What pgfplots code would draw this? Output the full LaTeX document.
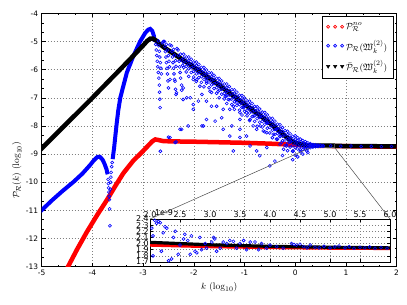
\documentclass[border=0pt]{standalone}
\usepackage{fontspec}
\usepackage{amssymb}
\usepackage{pgfplots}
\pgfplotsset{compat=1.18}
\newfontfamily\dejavu{DejaVu Sans}
\begin{document}
\begin{tikzpicture}
\path[use as bounding box] (-41.7bp,-38.4bp) rectangle (365.3bp,266.6bp);
\begin{axis}[name=main, at={(0,0)}, anchor=south west, scale only axis,
  width=354.9bp, height=253.2bp,
  xmin=-5, xmax=2, ymin=-13, ymax=-4,
  xtick={-5,-4,-3,-2,-1,0,1,2}, xticklabels={-5,-4,-3,-2,-1,0,1,2},
  ytick={-13,-12,-11,-10,-9,-8,-7,-6,-5,-4},
  yticklabels={-13,-12,-11,-10,-9,-8,-7,-6,-5,-4},
  minor x tick num=2, minor y tick num=2,
  tick align=inside, major tick length=4bp, minor tick length=2bp,
  tick style={black, line width=0.5bp},
  tick label style={font=\dejavu\fontsize{7.5}{8}\selectfont},
  grid=major, major grid style={gray, line width=0.5bp, dash pattern=on 1bp off 2bp},
  axis line style={black, line width=0.8bp},
  xlabel={$k$ ($\log_{10}$)}, ylabel={$\mathcal{P}_{\mathcal{R}}(k)$ ($\log_{10}$)},
  label style={font=\fontsize{9.5}{11}\selectfont},
  xlabel style={at={(axis description cs:0.5,-0.081)}, anchor=center},
  ylabel style={at={(axis description cs:-0.07,0.38)}, anchor=center},
  legend style={at={(1,1)}, anchor=north east, xshift=-3bp, yshift=-3bp, draw=black, line width=0.6bp,
    font=\fontsize{9.5}{11}\selectfont, row sep=5pt, inner xsep=4pt, inner ysep=4pt},
  legend cell align=left,
]
% red: P^no
\addplot[red, line width=4.5bp, forget plot] coordinates {
(-4.62,-13.45) (-4.48,-13.00) (-4.30,-12.38) (-4.11,-11.77) (-3.90,-11.15) (-3.72,-10.65)
(-3.55,-10.14) (-3.39,-9.68) (-3.20,-9.25) (-3.00,-8.89) (-2.90,-8.70) (-2.82,-8.55)
(-2.76,-8.48) (-2.70,-8.50) (-2.60,-8.54) (-2.40,-8.55) (-2.00,-8.56) (-1.50,-8.58)
(-1.00,-8.60) (-0.50,-8.63) (0.00,-8.67) (0.30,-8.70) (0.78,-8.715) (1.00,-8.72) (1.50,-8.73) (2.05,-8.74)};
% blue dense parts
\addplot[blue, line width=4bp, forget plot] coordinates {
(-5.05,-11.08) (-4.80,-10.65) (-4.60,-10.33) (-4.38,-10.00) (-4.20,-9.70) (-4.05,-9.40)
(-3.97,-9.22) (-3.90,-9.10) (-3.85,-9.10) (-3.80,-9.20) (-3.76,-9.35) (-3.72,-9.55) (-3.70,-9.72)};
\addplot[blue, line width=4bp, forget plot] coordinates {
(-3.60,-9.18) (-3.57,-8.75) (-3.55,-8.40) (-3.52,-7.90) (-3.49,-7.45) (-3.45,-7.00) (-3.40,-6.65)
(-3.32,-6.10) (-3.20,-5.55) (-3.06,-5.00) (-2.96,-4.70) (-2.90,-4.58) (-2.86,-4.55) (-2.82,-4.62)
(-2.79,-4.78) (-2.77,-5.00)};
% blue scatter
\addplot[blue, only marks, mark=o, mark size=1.5bp, mark options={line width=0.6bp}, forget plot] coordinates {
(-3.69,-9.90) (-3.685,-10.05) (-3.68,-10.20) (-3.675,-10.35) (-3.67,-10.50) (-3.665,-10.62)
(-3.66,-10.95) (-3.655,-11.55) (-3.645,-10.25) (-3.64,-10.00) (-3.635,-9.82) (-3.63,-9.65)
(-3.62,-9.45) (-3.61,-9.30)
(-2.75,-5.10) (-2.74,-5.30) (-2.73,-5.50) (-2.72,-5.70) (-2.71,-5.90) (-2.70,-6.10) (-2.69,-6.30)
(-2.68,-6.55) (-2.675,-6.80) (-2.67,-7.05) (-2.665,-7.35) (-2.66,-8.90)
(-2.70,-4.98) (-2.69,-5.15) (-2.68,-5.35) (-2.67,-5.55) (-2.66,-5.75) (-2.65,-5.95) (-2.64,-6.15)
(-2.62,-5.05) (-2.60,-5.00)
(-2.58,-5.00) (-2.57,-5.18) (-2.56,-5.36) (-2.55,-5.55) (-2.54,-5.75) (-2.53,-5.95) (-2.52,-6.15)
(-2.51,-6.40) (-2.50,-6.65)
(-2.54,-5.10) (-2.52,-5.30) (-2.50,-5.50) (-2.49,-5.70) (-2.48,-5.90) (-2.47,-5.12)
(-2.44,-5.15) (-2.43,-5.35) (-2.42,-5.55) (-2.41,-5.75) (-2.40,-5.95) (-2.39,-6.15) (-2.38,-6.35)
(-2.36,-6.70) (-2.35,-6.88)
(-2.40,-5.28) (-2.38,-5.48) (-2.36,-5.68) (-2.35,-5.88) (-2.33,-5.25)
(-2.31,-5.30) (-2.30,-5.50) (-2.29,-5.70) (-2.28,-5.90) (-2.27,-6.10) (-2.26,-6.30) (-2.24,-6.55)
(-2.26,-5.45) (-2.24,-5.65) (-2.22,-5.85)
(-2.20,-5.45) (-2.20,-5.59) (-2.20,-5.75) (-2.20,-5.92)
(-2.15,-5.55) (-2.15,-5.70) (-2.15,-5.88) (-2.15,-6.08)
(-2.10,-5.55) (-2.10,-5.67) (-2.10,-5.81) (-2.10,-5.97) (-2.10,-6.24)
(-2.05,-5.63) (-2.05,-5.77) (-2.05,-5.93) (-2.05,-6.10)
(-2.00,-5.73) (-2.00,-5.88) (-2.00,-6.06) (-2.00,-6.26)
(-1.95,-5.73) (-1.95,-5.85) (-1.95,-5.99) (-1.95,-6.15) (-1.95,-6.42)
(-1.90,-5.81) (-1.90,-5.95) (-1.90,-6.11) (-1.90,-6.28)
(-1.85,-5.92) (-1.85,-6.07) (-1.85,-6.25) (-1.85,-6.45)
(-1.80,-5.92) (-1.80,-6.04) (-1.80,-6.18) (-1.80,-6.34) (-1.80,-6.61)
(-1.75,-6.01) (-1.75,-6.15) (-1.75,-6.31) (-1.75,-6.48)
(-1.70,-6.11) (-1.70,-6.26) (-1.70,-6.44) (-1.70,-6.64)
(-1.65,-6.12) (-1.65,-6.24) (-1.65,-6.38) (-1.65,-6.54) (-1.65,-6.81)
(-1.60,-6.20) (-1.60,-6.34) (-1.60,-6.50) (-1.60,-6.67)
(-1.55,-6.31) (-1.55,-6.46) (-1.55,-6.64) (-1.55,-6.84)
(-1.50,-6.31) (-1.50,-6.43) (-1.50,-6.57) (-1.50,-6.73) (-1.50,-7.00)
(-1.45,-6.40) (-1.45,-6.54) (-1.45,-6.70) (-1.45,-6.87)
(-1.40,-6.51) (-1.40,-6.66) (-1.40,-6.84) (-1.40,-7.04)
(-1.35,-6.51) (-1.35,-6.63) (-1.35,-6.77) (-1.35,-6.93) (-1.35,-7.20)
(-1.30,-6.60) (-1.30,-6.74) (-1.30,-6.90) (-1.30,-7.07)
(-1.25,-6.71) (-1.25,-6.86) (-1.25,-7.04) (-1.25,-7.24)
(-1.20,-6.72) (-1.20,-6.84) (-1.20,-6.98) (-1.20,-7.14) (-1.20,-7.41)
(-1.15,-6.80) (-1.15,-6.94) (-1.15,-7.10) (-1.15,-7.27)
(-1.10,-6.91) (-1.10,-7.06) (-1.10,-7.24) (-1.10,-7.44)
(-1.05,-6.92) (-1.05,-7.04) (-1.05,-7.18) (-1.05,-7.34) (-1.05,-7.61)
(-1.00,-7.01) (-1.00,-7.15) (-1.00,-7.31) (-1.00,-7.48)
(-0.95,-7.11) (-0.95,-7.26) (-0.95,-7.44) (-0.95,-7.64)
(-0.90,-7.12) (-0.90,-7.24) (-0.90,-7.38) (-0.90,-7.54) (-0.90,-7.81)
(-0.85,-7.20) (-0.85,-7.34) (-0.85,-7.50) (-0.85,-7.67)
(-0.80,-7.31) (-0.80,-7.46) (-0.80,-7.64) (-0.80,-7.84)
(-0.75,-7.32) (-0.75,-7.44) (-0.75,-7.58) (-0.75,-7.74) (-0.75,-8.01)
(-0.70,-7.40) (-0.70,-7.54) (-0.70,-7.70) (-0.70,-7.87)
(-0.65,-7.51) (-0.65,-7.66) (-0.65,-7.84) (-0.65,-8.04)
(-0.60,-7.52) (-0.60,-7.64) (-0.60,-7.78) (-0.60,-7.94) (-0.60,-8.21)
(-0.55,-7.61) (-0.55,-7.75) (-0.55,-7.91) (-0.55,-8.08)
(-0.50,-7.72) (-0.50,-7.87) (-0.50,-8.05) (-0.50,-8.25)
(-0.45,-7.73) (-0.45,-7.85) (-0.45,-7.99) (-0.45,-8.15) (-0.45,-8.42)
(-0.40,-7.83) (-0.40,-7.97) (-0.40,-8.13) (-0.40,-8.30)
(-0.35,-7.94) (-0.35,-8.09) (-0.35,-8.27) (-0.35,-8.47)
(-0.30,-7.96) (-0.30,-8.08) (-0.30,-8.22) (-0.30,-8.38) (-0.30,-8.65)
(-0.25,-8.06) (-0.25,-8.20) (-0.25,-8.36) (-0.25,-8.53)
(-0.20,-8.17) (-0.20,-8.32) (-0.20,-8.50) (-0.20,-8.70)
(-0.15,-8.19) (-0.15,-8.31) (-0.15,-8.45) (-0.15,-8.61) (-0.15,-8.88)
(-0.10,-8.28) (-0.10,-8.42) (-0.10,-8.58) (-0.10,-8.75)
(-0.05,-8.37) (-0.05,-8.52) (-0.05,-8.70) (-0.05,-8.90)
(0.00,-8.35) (0.00,-8.47) (0.00,-8.61) (0.00,-8.77) (0.00,-9.04)
(0.05,-8.42) (0.05,-8.53) (0.05,-8.68) (0.05,-8.82)
(0.10,-8.47) (0.10,-8.58) (0.10,-8.72) (0.10,-8.85)
(0.15,-8.52) (0.15,-8.61) (0.15,-8.74) (0.15,-8.84)
(0.20,-8.56) (0.20,-8.64) (0.20,-8.74) (0.20,-8.82)
(0.25,-8.60) (0.25,-8.66) (0.25,-8.74) (0.25,-8.80)
(0.30,-8.63) (0.30,-8.68) (0.30,-8.73) (0.30,-8.77)
(0.35,-8.66) (0.35,-8.69) (0.35,-8.72) (0.35,-8.75)
(0.40,-8.67) (0.40,-8.71) (0.40,-8.74)
(0.45,-8.68) (0.45,-8.71) (0.45,-8.73)
(0.50,-8.69) (0.50,-8.72) (0.55,-8.70) (0.55,-8.72)
(0.70,-8.705) (0.90,-8.72) (1.10,-8.715) (1.30,-8.73) (1.50,-8.725) (1.70,-8.735) (1.90,-8.73)
(-2.47,-6.35) (-2.37,-6.41) (-2.34,-6.82) (-2.24,-6.73) (-2.21,-6.65) (-2.14,-7.00) (-2.07,-7.00)
(-2.01,-6.35) (-1.94,-6.35) (-1.88,-6.59) (-1.75,-6.41) (-1.68,-6.77) (-1.75,-7.12) (-1.65,-7.30)
(-2.01,-7.24) (-2.01,-7.41) (-1.55,-7.30) (-1.42,-7.41) (-1.29,-7.41) (-1.75,-7.77) (-1.58,-7.83)
(-1.81,-8.00) (-1.42,-8.12) (-1.25,-8.00) (-1.09,-7.77) (-1.09,-8.12) (-0.89,-7.77) (-0.83,-8.00)
(-0.76,-8.12) (-0.69,-8.00) (-0.63,-8.18) (-0.56,-8.24) (-0.43,-8.30) (-0.37,-8.47) (-0.27,-8.59)
(-0.17,-8.71) (-1.09,-8.41) (-0.96,-8.36) (-1.29,-8.36) (-2.27,-8.12) (-2.47,-8.41) (-2.11,-8.00)
(-1.84,-8.00) (-2.37,-8.59) (-1.45,-7.71) (-1.32,-7.06) (-1.22,-7.30) (-1.09,-7.53) (-0.96,-7.53)
(-0.83,-7.65) (-2.50,-8.40) (-2.24,-8.12) (-0.50,-9.42) (-0.70,-9.06) (-2.35,-8.57)
(-2.21,-7.06) (-1.84,-6.88) (-1.52,-6.77) (-1.38,-6.94) (-1.91,-7.12) (-1.15,-7.18) (-1.02,-7.35)
(-0.69,-7.65) (-0.56,-7.88) (-0.37,-8.12) (-0.30,-8.36) (-0.10,-8.53)
(-0.23,-8.83) (-0.04,-8.89) (0.10,-8.92) (0.23,-8.89) (-0.56,-8.77) (-0.76,-8.89) (-0.89,-8.71)
(-1.22,-8.89) (-0.25,-9.05) (-0.05,-9.20) (0.05,-9.10) (0.15,-9.00) (0.25,-8.95) (-0.40,-9.25)
};
% black: bar P
\addplot[black, line width=4.5bp, forget plot] coordinates {
(-5.05,-8.89) (-4.50,-7.90) (-4.00,-7.00) (-3.50,-6.08) (-3.20,-5.52) (-3.00,-5.14) (-2.92,-4.98)
(-2.86,-4.90) (-2.80,-4.90) (-2.74,-4.97) (-2.68,-5.08) (-2.57,-5.23) (-2.30,-5.55) (-2.02,-5.88)
(-1.50,-6.55) (-0.99,-7.24) (-0.70,-7.62) (-0.43,-8.00) (-0.25,-8.28) (-0.10,-8.50) (0.05,-8.63)
(0.20,-8.68) (0.30,-8.695) (0.50,-8.70) (0.78,-8.71) (1.00,-8.715) (1.50,-8.72) (2.05,-8.73)};
% legend
\addlegendimage{only marks, mark=o, red, mark size=1.5bp, mark options={line width=0.7bp},
  legend image code/.code={\draw plot coordinates {(0bp,0bp) (7bp,0bp) (14bp,0bp)};}}
\addlegendentry{$\mathcal{P}^{no}_{\mathcal{R}}$}
\addlegendimage{only marks, mark=o, blue, mark size=1.5bp, mark options={line width=0.7bp},
  legend image code/.code={\draw plot coordinates {(0bp,0bp) (7bp,0bp) (14bp,0bp)};}}
\addlegendentry{$\mathcal{P}_{\mathcal{R}}(\mathfrak{W}^{(2)}_k)$}
\addlegendimage{only marks, mark=triangle*, black, mark size=1.9bp, mark options={rotate=180},
  legend image code/.code={\draw plot coordinates {(0bp,0bp) (7bp,0bp) (14bp,0bp)};}}
\addlegendentry{$\bar{\mathcal{P}}_{\mathcal{R}}(\mathfrak{W}^{(2)}_k)$}
% zoom rectangle
\draw[gray!60!black, line width=0.5bp] (axis cs:0.30103,-8.7696) rectangle (axis cs:0.77815,-8.6198);
\coordinate (rll) at (axis cs:0.30103,-8.7696);
\coordinate (rlr) at (axis cs:0.77815,-8.7696);
\end{axis}
\begin{axis}[name=inset, at={(108.3bp,4.6bp)}, anchor=south west, scale only axis,
  width=240bp, height=43bp,
  xmin=2, xmax=6, ymin=1.7, ymax=2.4,
  xtick={2,2.5,3,3.5,4,4.5,5,5.5,6},
  xticklabels={2.0,2.5,3.0,3.5,4.0,4.5,5.0,5.5,6.0},
  ytick={1.7,1.8,1.9,2.0,2.1,2.2,2.3,2.4},
  yticklabels={1.7,1.8,1.9,2.0,2.1,2.2,2.3,2.4},
  xticklabel pos=upper,
  tick align=inside, major tick length=3bp,
  tick style={black, line width=0.5bp},
  tick label style={font=\dejavu\fontsize{8}{8}\selectfont, inner sep=1pt},
  grid=major, major grid style={gray, line width=0.5bp, dash pattern=on 1bp off 2bp},
  axis line style={black, line width=0.8bp},
  axis background/.style={fill=white},
]
\addplot[red, line width=3.2bp] coordinates {(2,1.975) (3,1.95) (4,1.935) (5,1.925) (6,1.92)};
\addplot[blue, only marks, mark=o, mark size=1.5bp, mark options={line width=0.6bp}] coordinates {
(2.03,2.25) (2.05,2.125) (2.05,1.80) (2.08,2.38) (2.11,2.33) (2.14,2.36) (2.17,2.34) (2.19,1.875)
(2.22,2.175) (2.25,2.275) (2.28,2.25) (2.31,1.72) (2.36,1.75) (2.39,2.10) (2.42,2.20) (2.47,1.825)
(2.50,1.975) (2.56,2.075) (2.58,2.15) (2.63,2.05) (2.67,1.825) (2.69,2.125) (2.75,1.875) (2.78,1.85)
(2.83,2.10) (2.86,1.90) (2.92,2.00) (2.94,1.925) (3.03,2.025) (3.06,2.10) (3.08,2.075) (3.11,1.875)
(3.17,1.925) (3.22,2.025) (3.28,2.00) (3.33,2.05) (3.39,2.035) (3.44,1.925) (3.50,2.00) (3.56,2.05)
(3.61,1.90) (3.67,2.025) (3.75,2.025) (3.81,1.90) (3.86,2.00) (3.94,1.925) (4.00,1.975) (4.11,1.95)
(4.22,1.925) (4.36,2.00) (4.40,1.985) (4.44,1.975) (4.50,1.99) (4.56,1.95) (4.62,1.93) (4.67,1.975)
(4.75,1.94) (4.82,1.93) (4.90,1.955) (5.00,1.93) (5.08,1.945) (5.15,1.96) (5.25,1.93) (5.32,1.95)
(5.40,1.925) (5.50,1.94) (5.58,1.93) (5.66,1.945) (5.75,1.925) (5.85,1.935) (5.95,1.925)};
\addplot[black, line width=3.2bp] coordinates {(2,2.02) (3,1.98) (4,1.955) (5,1.94) (6,1.93)};
\end{axis}
\node[font=\dejavu\fontsize{8}{8}\selectfont, anchor=center] at ([xshift=14bp,yshift=6bp]inset.north west) {1e-9};
\draw[gray!60!black, line width=0.5bp] (rll) -- (inset.north west);
\draw[gray!60!black, line width=0.5bp] (rlr) -- (inset.north east);
\end{tikzpicture}
\end{document}
